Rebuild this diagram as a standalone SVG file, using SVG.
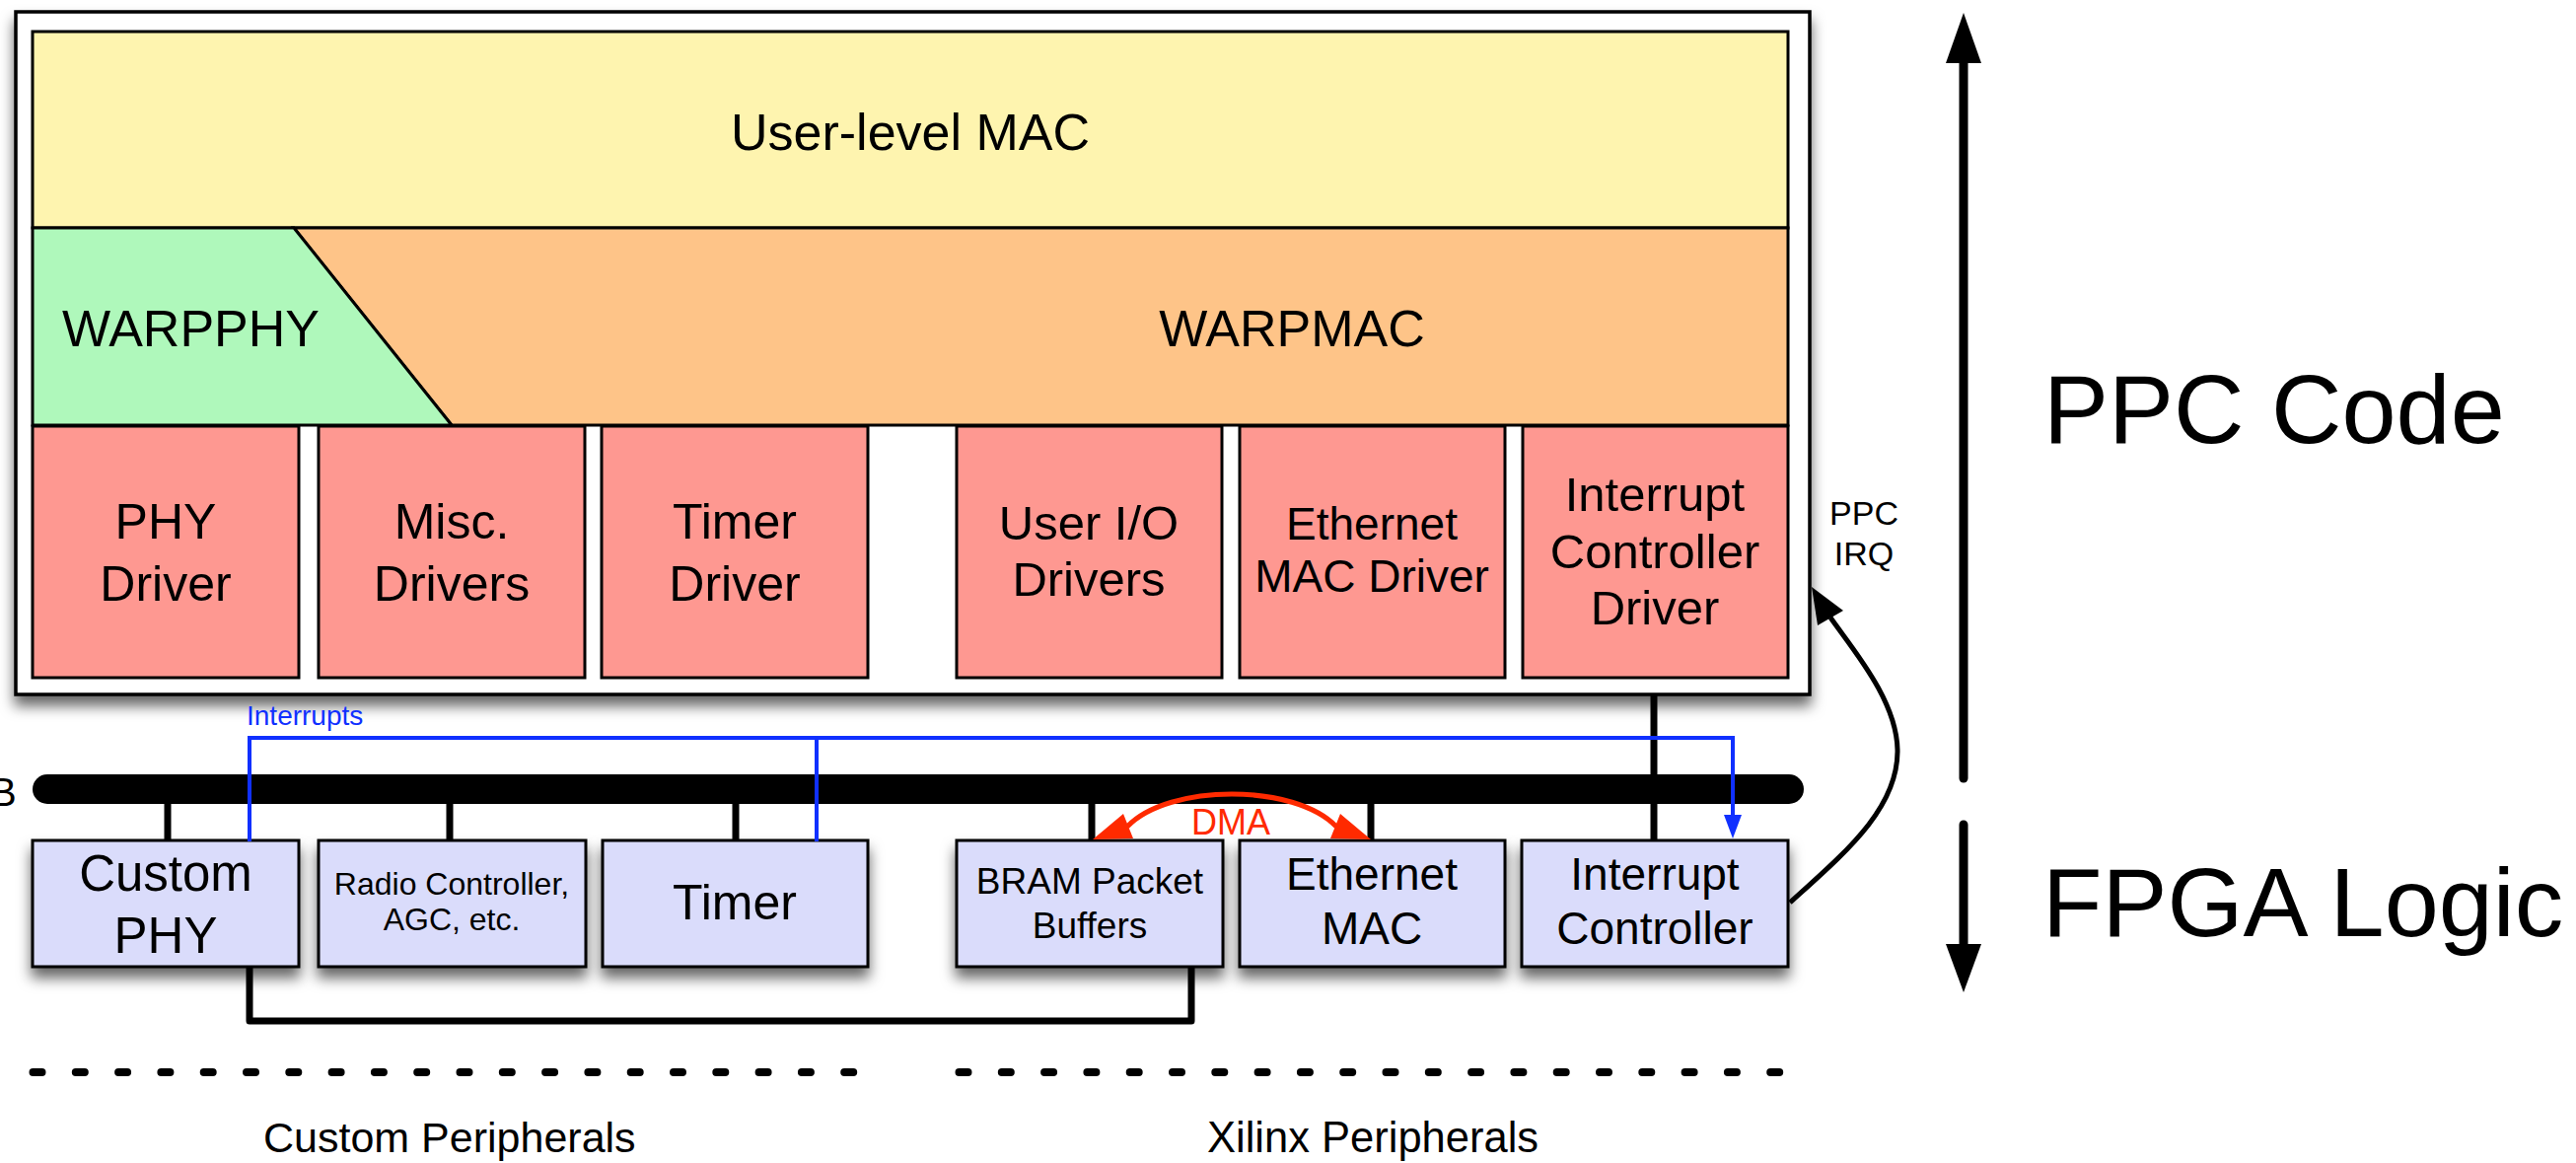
<svg xmlns="http://www.w3.org/2000/svg" width="2612" height="1179" viewBox="0 0 2612 1179">
  <defs>
    <filter id="shadow" x="-20%" y="-20%" width="140%" height="160%">
      <feDropShadow dx="0" dy="10" stdDeviation="7" flood-color="#000" flood-opacity="0.6"/>
    </filter>
    <style>
      text { font-family: "Liberation Sans", Arial, Helvetica, sans-serif; fill: #000; }
      .c { text-anchor: middle; }
      .layer { stroke: #000; stroke-width: 3; }
      .drv { fill: #FE9891; stroke: #000; stroke-width: 3; }
      .periph { fill: #DADCFB; stroke: #000; stroke-width: 3; filter: url(#shadow); }
      .wire { stroke: #000; stroke-width: 7; fill: none; }
      .irq { stroke: #1030FF; stroke-width: 4; fill: none; }
      .dma { stroke: #FF2A00; stroke-width: 5; fill: none; }
      .dots { stroke: #000; stroke-width: 8; stroke-linecap: round; stroke-dasharray: 9 34.3; fill: none; }
      .big { font-size: 99px; }
    </style>
  </defs>

  <rect width="2612" height="1179" fill="#fff"/>

  <!-- PowerPC software stack -->
  <g id="ppc-code">
    <rect x="16" y="12" width="1819" height="692" fill="#fff" stroke="#000" stroke-width="3.5" filter="url(#shadow)"/>
  </g>

  <g id="user-mac">
    <rect class="layer" x="33" y="32" width="1780" height="199" fill="#FEF4AF"/>
    <text class="c" x="923" y="152" font-size="52">User-level MAC</text>
  </g>

  <g id="warpmac">
    <polygon class="layer" points="298,231 1813,231 1813,431 458,431" fill="#FEC488"/>
    <text class="c" x="1310" y="351" font-size="52">WARPMAC</text>
  </g>

  <g id="warpphy">
    <polygon class="layer" points="33,231 298,231 458,431 33,431" fill="#AFF8BB"/>
    <text x="63" y="351" font-size="52">WARPPHY</text>
  </g>

  <!-- Drivers -->
  <g id="phy-driver">
    <rect class="drv" x="33" y="432" width="270" height="255"/>
    <text class="c" x="168" y="546" font-size="50">PHY</text>
    <text class="c" x="168" y="609" font-size="50">Driver</text>
  </g>
  <g id="misc-drivers">
    <rect class="drv" x="323" y="432" width="270" height="255"/>
    <text class="c" x="458" y="546" font-size="50">Misc.</text>
    <text class="c" x="458" y="609" font-size="50">Drivers</text>
  </g>
  <g id="timer-driver">
    <rect class="drv" x="610" y="432" width="270" height="255"/>
    <text class="c" x="745" y="546" font-size="50">Timer</text>
    <text class="c" x="745" y="609" font-size="50">Driver</text>
  </g>
  <g id="userio-drivers">
    <rect class="drv" x="970" y="432" width="269" height="255"/>
    <text class="c" x="1104" y="547" font-size="49">User I/O</text>
    <text class="c" x="1104" y="604" font-size="49">Drivers</text>
  </g>
  <g id="emac-driver">
    <rect class="drv" x="1257" y="432" width="269" height="255"/>
    <text class="c" x="1391" y="547" font-size="46">Ethernet</text>
    <text class="c" x="1391" y="600" font-size="46">MAC Driver</text>
  </g>
  <g id="intc-driver">
    <rect class="drv" x="1544" y="432" width="269" height="255"/>
    <text class="c" x="1678" y="518" font-size="49">Interrupt</text>
    <text class="c" x="1678" y="576" font-size="49">Controller</text>
    <text class="c" x="1678" y="633" font-size="49">Driver</text>
  </g>

  <!-- Processor local bus -->
  <g id="bus">
    <rect x="33" y="785" width="1796" height="30" rx="15" fill="#000"/>
    <text x="-10" y="817" font-size="40">B</text>
  </g>

  <!-- FPGA peripherals -->
  <g id="custom-phy">
    <rect class="periph" x="33" y="852" width="270" height="128"/>
    <text class="c" x="168" y="903" font-size="51">Custom</text>
    <text class="c" x="168" y="966" font-size="51">PHY</text>
  </g>
  <g id="radio-controller">
    <rect class="periph" x="323" y="852" width="271" height="128"/>
    <text class="c" x="458" y="907" font-size="32">Radio Controller,</text>
    <text class="c" x="458" y="943" font-size="32">AGC, etc.</text>
  </g>
  <g id="timer">
    <rect class="periph" x="611" y="852" width="269" height="128"/>
    <text class="c" x="745" y="932" font-size="50">Timer</text>
  </g>
  <g id="bram-buffers">
    <rect class="periph" x="970" y="852" width="270" height="128"/>
    <text class="c" x="1105" y="906" font-size="37">BRAM Packet</text>
    <text class="c" x="1105" y="951" font-size="37">Buffers</text>
  </g>
  <g id="ethernet-mac">
    <rect class="periph" x="1257" y="852" width="269" height="128"/>
    <text class="c" x="1391" y="902" font-size="46">Ethernet</text>
    <text class="c" x="1391" y="957" font-size="46">MAC</text>
  </g>
  <g id="intc">
    <rect class="periph" x="1543" y="852" width="270" height="128"/>
    <text class="c" x="1678" y="902" font-size="46">Interrupt</text>
    <text class="c" x="1678" y="957" font-size="46">Controller</text>
  </g>

  <!-- Connections -->
  <g id="connectors">
    <!-- bus taps -->
    <path class="wire" d="M170,815 V852 M456,815 V852 M746,815 V852 M1107,815 V852 M1390,815 V852 M1677,704 V852"/>
    <!-- PHY to packet buffers -->
    <path class="wire" d="M253,980 V1035 H1208 V980" stroke-linejoin="round"/>
    <!-- interrupt lines -->
    <path class="irq" d="M253,853 V748 H1757 V830 M828,853 V748"/>
    <polygon points="1757,850 1748,826 1766,826" fill="#1030FF"/>
    <text x="250" y="735" font-size="28" style="fill:#1030FF">Interrupts</text>
    <!-- DMA -->
    <path class="dma" d="M1143,838 C1185,794 1313,794 1355,838"/>
    <polygon points="1108,851 1139,825 1149,850" fill="#FF2A00"/>
    <polygon points="1390,851 1359,825 1349,850" fill="#FF2A00"/>
    <text class="c" x="1248" y="846" font-size="36" style="fill:#FF2A00">DMA</text>
    <!-- processor interrupt request -->
    <path d="M1815,915 C1870,865 1925,820 1924,760 C1923,710 1880,660 1856,626" stroke="#000" stroke-width="5" fill="none"/>
    <polygon points="1837,595 1869,619 1843,634" fill="#000"/>
    <text class="c" x="1890" y="532" font-size="34">PPC</text>
    <text class="c" x="1890" y="573" font-size="34">IRQ</text>
  </g>

  <!-- Software / hardware boundary -->
  <g id="domains">
    <line x1="1991" y1="55" x2="1991" y2="789" stroke="#000" stroke-width="9" stroke-linecap="round"/>
    <polygon points="1991,13 1973,64 2009,64" fill="#000"/>
    <line x1="1991" y1="836" x2="1991" y2="965" stroke="#000" stroke-width="9" stroke-linecap="round"/>
    <polygon points="1991,1006 1973,957 2009,957" fill="#000"/>
    <text class="big" x="2072" y="449">PPC Code</text>
    <text class="big" x="2071" y="949">FPGA Logic</text>
  </g>

  <g id="groups">
    <path class="dots" d="M33.5,1087 H870"/>
    <path class="dots" d="M972.5,1087 H1810"/>
    <text x="267" y="1168" font-size="43">Custom Peripherals</text>
    <text x="1224" y="1168" font-size="43.5">Xilinx Peripherals</text>
  </g>
</svg>
